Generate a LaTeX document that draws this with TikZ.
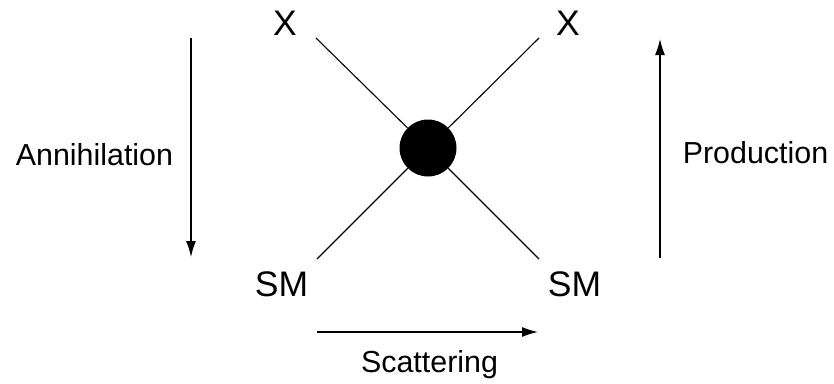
\documentclass[tikz,border=0pt]{standalone}
\usepackage{fontspec}
\setmainfont{Liberation Sans}
\usetikzlibrary{arrows.meta}

\begin{document}
\begin{tikzpicture}[x=1pt,y=-1pt,font=\fontsize{30.4}{36}\selectfont]
        % Setup the styles
        \tikzset{label style/.style={anchor=base, inner sep=0pt},
                 particle style/.style={label style,
                                        font=\fontsize{35.5}{42}\selectfont},
                 leg style/.style={line width=1.1pt},
                 flow style/.style={line width=1.3pt,
                                    -{Latex[length=16pt,width=10pt]}}}
        \useasboundingbox (0,0) rectangle (834,383);

        % The vertex and the particles
        \node[circle, fill=black, minimum size=57pt, inner sep=0pt] at (428, 148) (blob) {};
        \node[particle style] at (285, 35)    (xleft)   {X};
        \node[particle style] at (568, 35)    (xright)  {X};
        \node[particle style] at (281.5, 296) (smleft)  {SM};
        \node[particle style] at (574.5, 296) (smright) {SM};

        % Free ends of the legs
        \coordinate (legxl) at (316, 38);
        \coordinate (legxr) at (539, 38);
        \coordinate (legsl) at (317, 259);
        \coordinate (legsr) at (539, 259);

        % Draw the legs
        \draw[leg style] (legxl) -- (blob);
        \draw[leg style] (legxr) -- (blob);
        \draw[leg style] (legsl) -- (blob);
        \draw[leg style] (legsr) -- (blob);

        % The three processes
        \coordinate (annstart)  at (191, 38);
        \coordinate (annend)    at (191, 257);
        \coordinate (prodstart) at (660, 258);
        \coordinate (prodend)   at (660, 39);
        \coordinate (scatstart) at (317, 332);
        \coordinate (scatend)   at (538, 332);

        \draw[flow style] (annstart)  -- (annend);
        \draw[flow style] (prodstart) -- (prodend);
        \draw[flow style] (scatstart) -- (scatend);

        \node[label style] at (94.5, 165)  (annlabel)  {Annihilation};
        \node[label style] at (755.5, 163) (prodlabel) {Production};
        \node[label style] at (429.5, 372) (scatlabel) {Scattering};
\end{tikzpicture}
\end{document}
